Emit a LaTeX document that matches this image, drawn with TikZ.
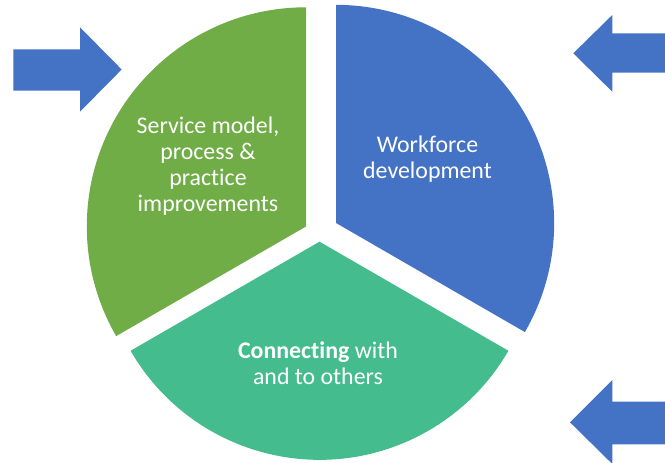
\documentclass[tikz,border=0pt]{standalone}
\usepackage{fontspec}
\setmainfont{Carlito}[RawFeature={-liga;-clig;-dlig}]
\definecolor{segGreen}{RGB}{112,173,71}
\definecolor{segBlue}{RGB}{68,114,196}
\definecolor{segTeal}{RGB}{69,188,142}
\definecolor{arrowBlue}{RGB}{68,114,196}
\begin{document}
\begin{tikzpicture}[x=0.75pt,y=0.75pt,
  label/.style={text=white,align=center,inner sep=0pt,
    font=\fontsize{17.9pt}{19.5pt}\selectfont},
  blockarrow/.style={fill=arrowBlue,draw=none}]
\useasboundingbox (0,0) rectangle (665,463);

% apexes of the three exploded pie sectors
\coordinate (gApex) at (306,236.5);
\coordinate (bApex) at (336,240);
\coordinate (tApex) at (319.5,221.3);

% sectors
\fill[segGreen] (gApex) -- ++(90:164.4pt)
  arc[start angle=90,end angle=210,radius=164.4pt] -- cycle;
\fill[segBlue] (bApex) -- ++(-30:163.6pt)
  arc[start angle=-30,end angle=90,radius=163.6pt] -- cycle;
\fill[segTeal] (tApex) -- ++(210:163.6pt)
  arc[start angle=210,end angle=330,radius=163.6pt] -- cycle;

% sector labels
\node[label] (service) at (208,296.4)
  {Service model,\\process \&\\practice\\improvements};
\node[label] (workforce) at (427.5,303.6) {Workforce\\development};
\node[label] (connecting) at (318,99.7)
  {\textbf{Connecting} with\\and to others};

% block arrows pointing at the circle
\fill[blockarrow] (13.3,372.3) -- (80,372.3) -- (80,351.3) -- (121.7,393.5)
  -- (80,435.7) -- (80,413.7) -- (13.3,413.7) -- cycle;
\fill[blockarrow] (670,390.3) -- (612.3,390.3) -- (612.3,371.3) -- (573.3,409.7)
  -- (612.3,448) -- (612.3,429.7) -- (670,429.7) -- cycle;
\fill[blockarrow] (670,18.7) -- (612.3,18.7) -- (612.3,-1) -- (570,40.7)
  -- (612.3,83) -- (612.3,61.3) -- (670,61.3) -- cycle;
\end{tikzpicture}
\end{document}
